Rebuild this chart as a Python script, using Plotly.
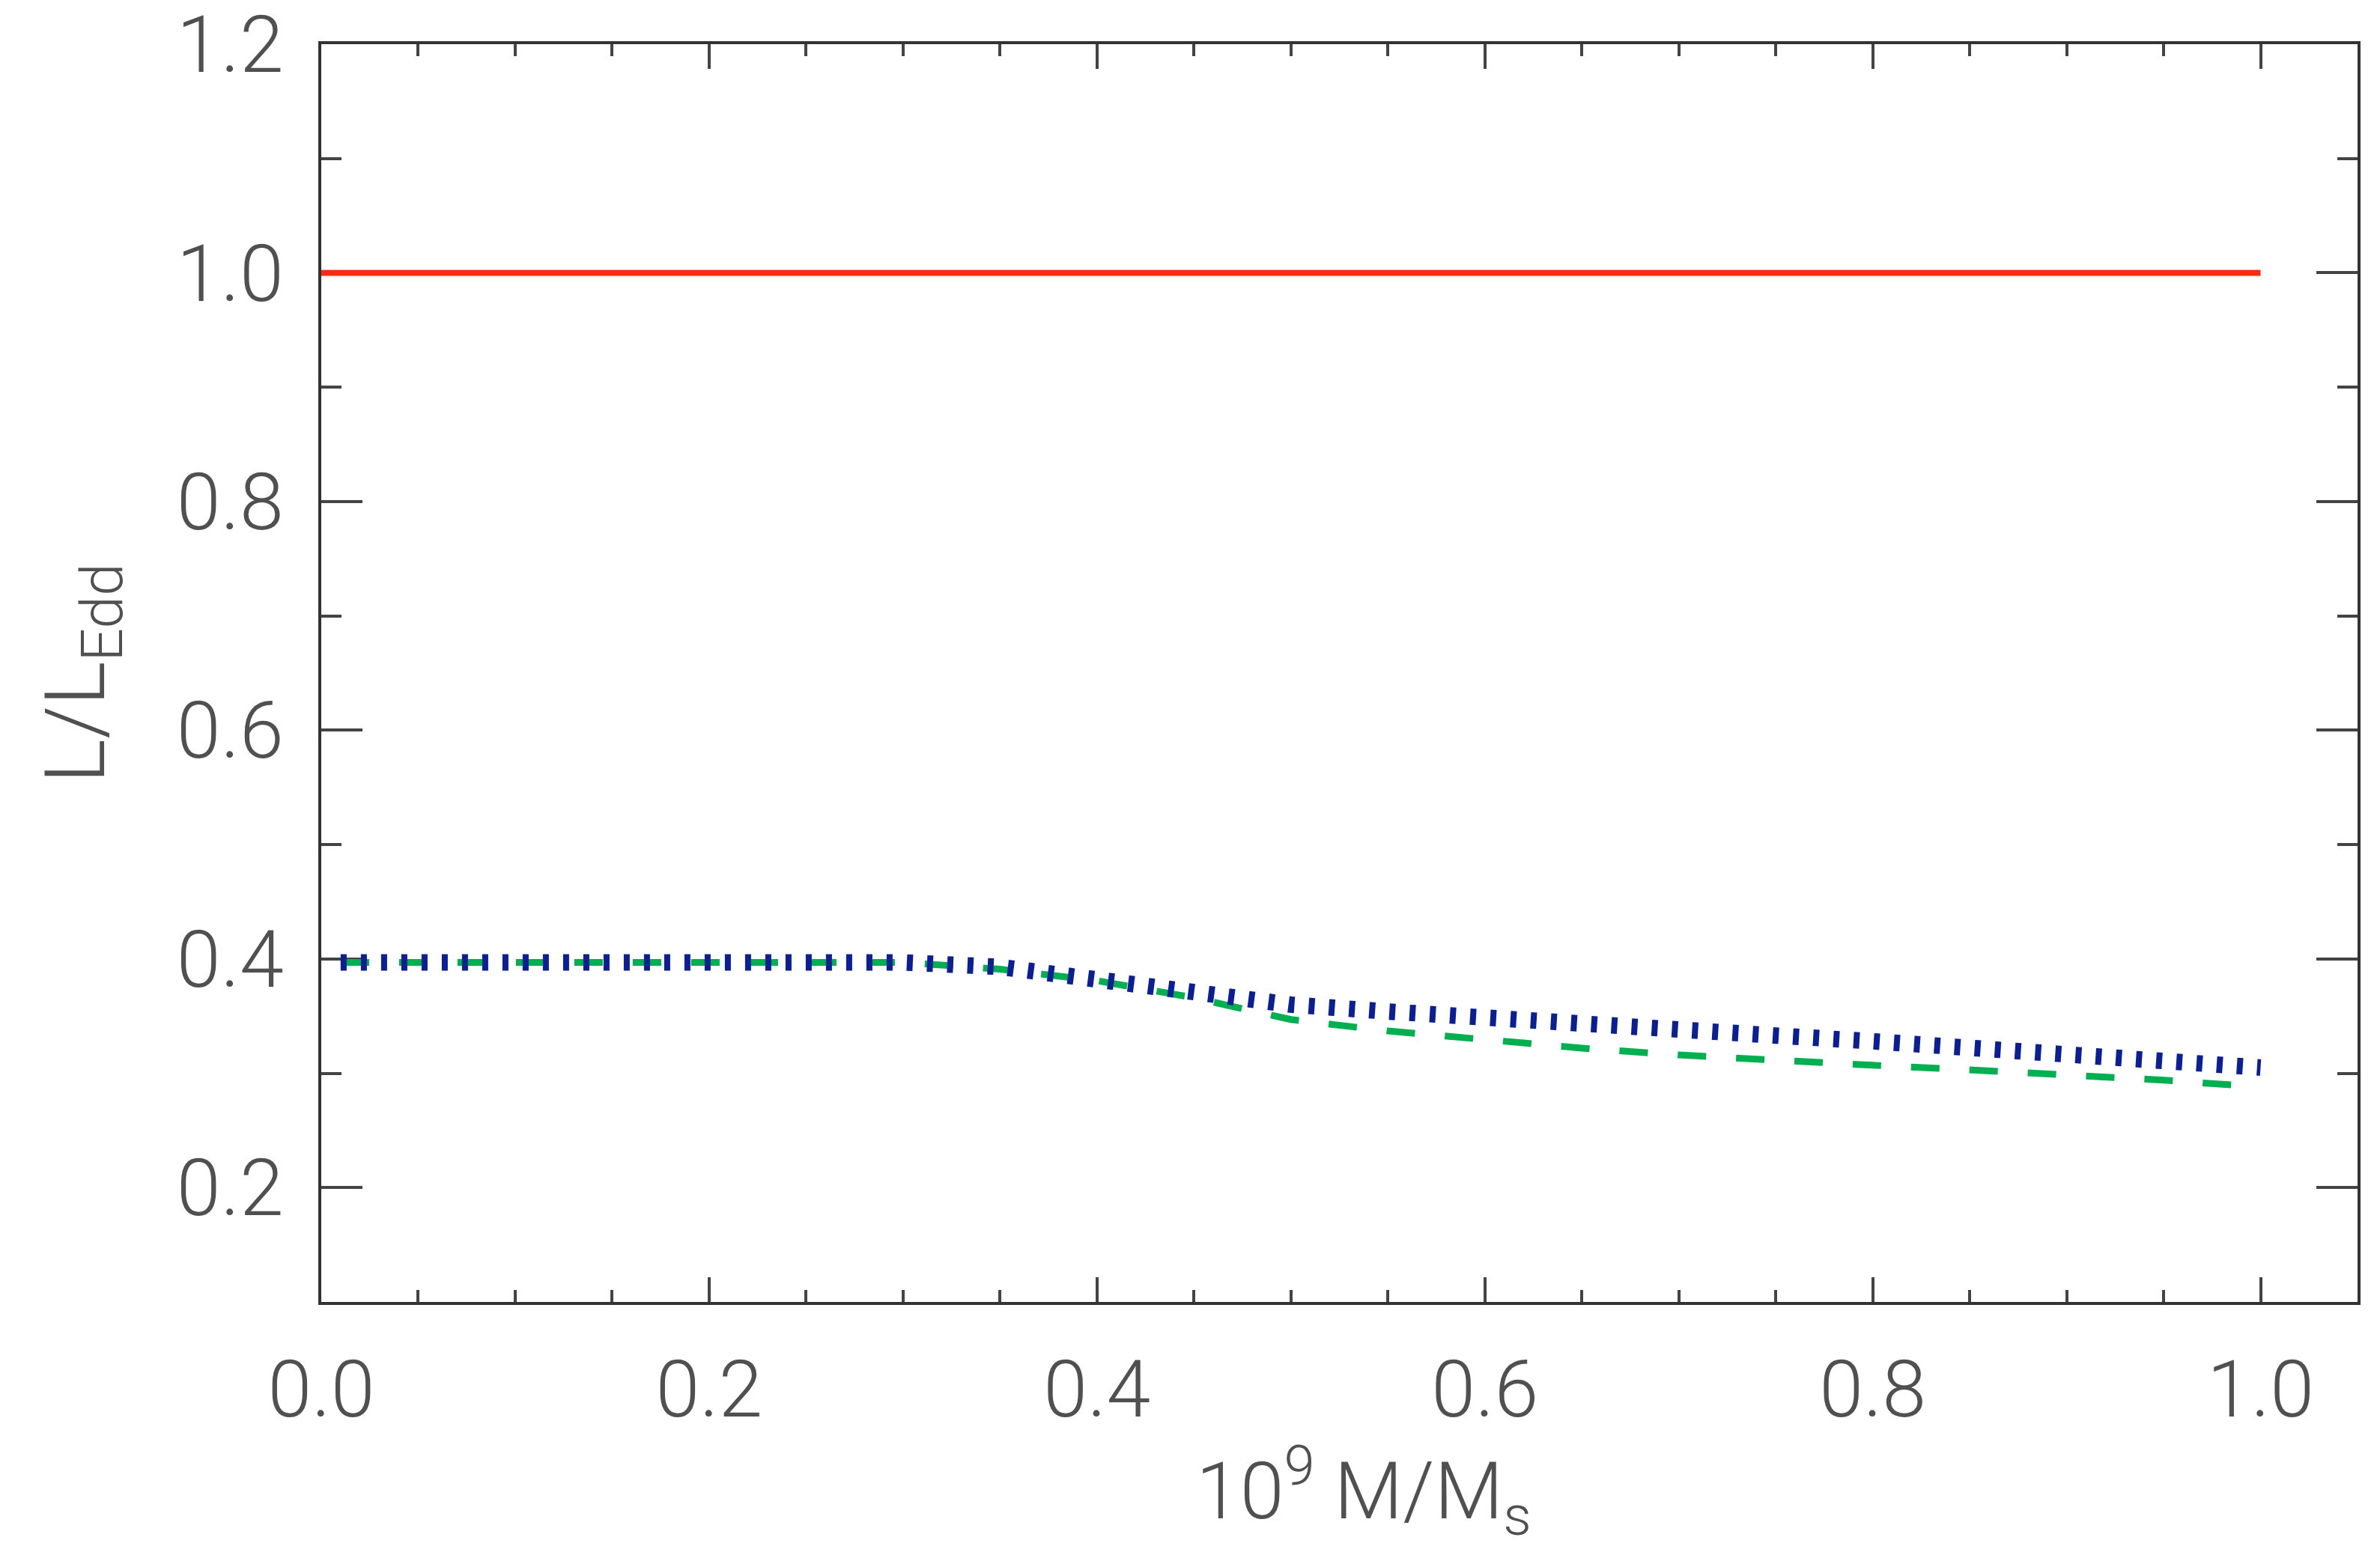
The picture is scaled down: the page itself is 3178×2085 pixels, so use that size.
import plotly.graph_objects as go

# mass coordinate (10^9 M/Ms) and luminosity ratios
x_ref = [0.0, 1.0]
ratio_ref = [1.0, 1.0]

x_mass = [0.01, 0.05, 0.10, 0.15, 0.20, 0.25, 0.30, 0.35, 0.40, 0.45, 0.50,
          0.55, 0.60, 0.65, 0.70, 0.75, 0.80, 0.85, 0.90, 0.95, 1.00]
ratio_dotted = [0.397, 0.397, 0.397, 0.397, 0.397, 0.397, 0.397, 0.393, 0.383, 0.371, 0.360,
                0.354, 0.348, 0.343, 0.338, 0.333, 0.328, 0.323, 0.318, 0.312, 0.305]
ratio_dashed = [0.397, 0.397, 0.397, 0.397, 0.397, 0.397, 0.397, 0.391, 0.381, 0.366, 0.347,
                0.337, 0.329, 0.322, 0.316, 0.311, 0.307, 0.303, 0.299, 0.294, 0.288]

x_ticks = [0.0, 0.2, 0.4, 0.6, 0.8, 1.0]
y_ticks = [0.2, 0.4, 0.6, 0.8, 1.0, 1.2]

FONT = dict(family='Roboto, Liberation Sans, sans-serif', size=106, color='#505050', weight=300)

fig = go.Figure()

fig.add_trace(go.Scatter(x=x_ref, y=ratio_ref, mode='lines',
                         line=dict(color='#ff2a12', width=8)))
fig.add_trace(go.Scatter(x=x_mass, y=ratio_dashed, mode='lines',
                         line=dict(color='#00b050', width=9, dash='38px,40px')))
fig.add_trace(go.Scatter(x=x_mass, y=ratio_dotted, mode='lines',
                         line=dict(color='#0a1e96', width=22, dash='8px,19px')))

fig.update_layout(
    width=3178,
    height=2085,
    margin=dict(l=421, r=38, t=51, b=354),
    plot_bgcolor='white',
    paper_bgcolor='white',
    showlegend=False,
    font=FONT,
    xaxis=dict(
        range=[0, 1.05],
        tickmode='array', tickvals=x_ticks,
        tickformat='.1f',
        ticks='inside', ticklen=33, tickwidth=4, tickcolor='#444',
        minor=dict(ticks='inside', dtick=0.05, tick0=0, ticklen=16, tickwidth=4, tickcolor='#444'),
        showline=True, linecolor='#333', linewidth=4, mirror='ticks',
        showgrid=False, zeroline=False,
        ticklabelstandoff=22,
        ticklabeloverflow='allow',
        automargin=False,
        layer='below traces',
    ),
    yaxis=dict(
        range=[0.1, 1.2],
        tickmode='array', tickvals=y_ticks,
        tickformat='.1f',
        ticks='inside', ticklen=55, tickwidth=4, tickcolor='#444',
        minor=dict(ticks='inside', dtick=0.1, tick0=0, ticklen=27, tickwidth=4, tickcolor='#444'),
        showline=True, linecolor='#333', linewidth=4, mirror='ticks',
        showgrid=False, zeroline=False,
        ticklabelstandoff=25,
        ticklabeloverflow='allow',
        automargin=False,
        layer='below traces',
    ),
    annotations=[
        dict(text='10<sup>9</sup> M/M<sub>s</sub>', xref='paper', yref='paper',
             x=0.512, y=-0.150, xanchor='center', yanchor='middle', showarrow=False),
        dict(text='L/L<sub>Edd</sub>', xref='paper', yref='paper', textangle=-90,
             x=-0.118, y=0.5, xanchor='center', yanchor='middle', showarrow=False,
             font=dict(size=112)),
    ],
)

fig.write_html("out.html")
